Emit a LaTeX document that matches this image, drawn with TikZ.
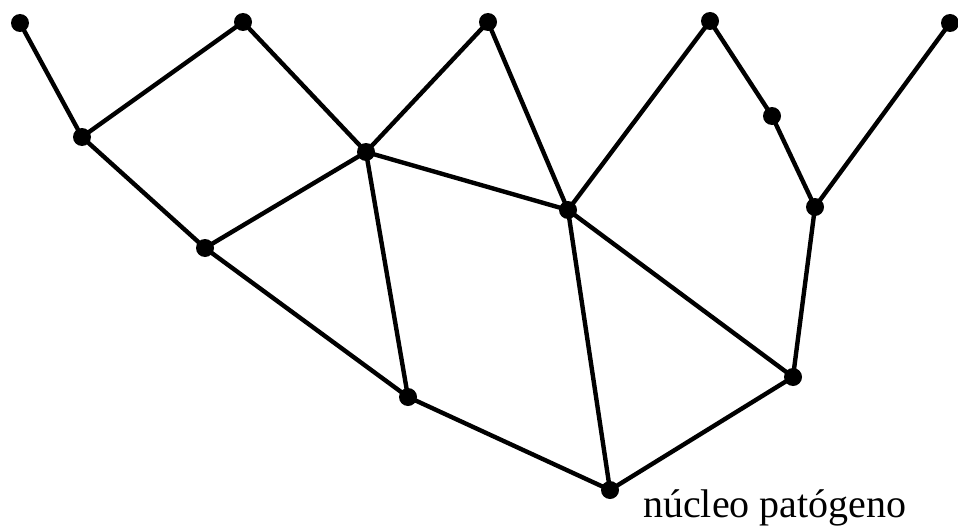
\documentclass[tikz,border=0pt]{standalone}
\usepackage{fontspec}
\setmainfont{Liberation Serif}
\begin{document}
\begin{tikzpicture}[x=1pt,y=-1pt,
  dot/.style={circle,fill=black,inner sep=0pt,minimum size=18pt},
  edge/.style={line width=4.4pt}]
\useasboundingbox (0,0) rectangle (958,527);
\node[dot] (A) at (20,23) {};
\node[dot] (B) at (243,22) {};
\node[dot] (C) at (488,22) {};
\node[dot] (D) at (710,21) {};
\node[dot] (E) at (950,23) {};
\node[dot] (F) at (82,137) {};
\node[dot] (G) at (366,152) {};
\node[dot] (H) at (772,116) {};
\node[dot] (I) at (568,210) {};
\node[dot] (J) at (815,207) {};
\node[dot] (K) at (205,248) {};
\node[dot] (L) at (793,377) {};
\node[dot] (M) at (408,397) {};
\node[dot] (N) at (610,490) {};
\foreach \a/\b in {A/F,F/B,B/G,F/K,K/G,G/C,C/I,G/I,G/M,K/M,I/D,D/H,H/J,J/E,J/L,I/L,I/N,M/N,N/L}
  \draw[edge] (\a.center) -- (\b.center);
\node[anchor=base west,inner sep=0pt,font=\fontsize{40}{42}\selectfont] (lab) at (643,517) {núcleo patógeno};
\end{tikzpicture}
\end{document}
